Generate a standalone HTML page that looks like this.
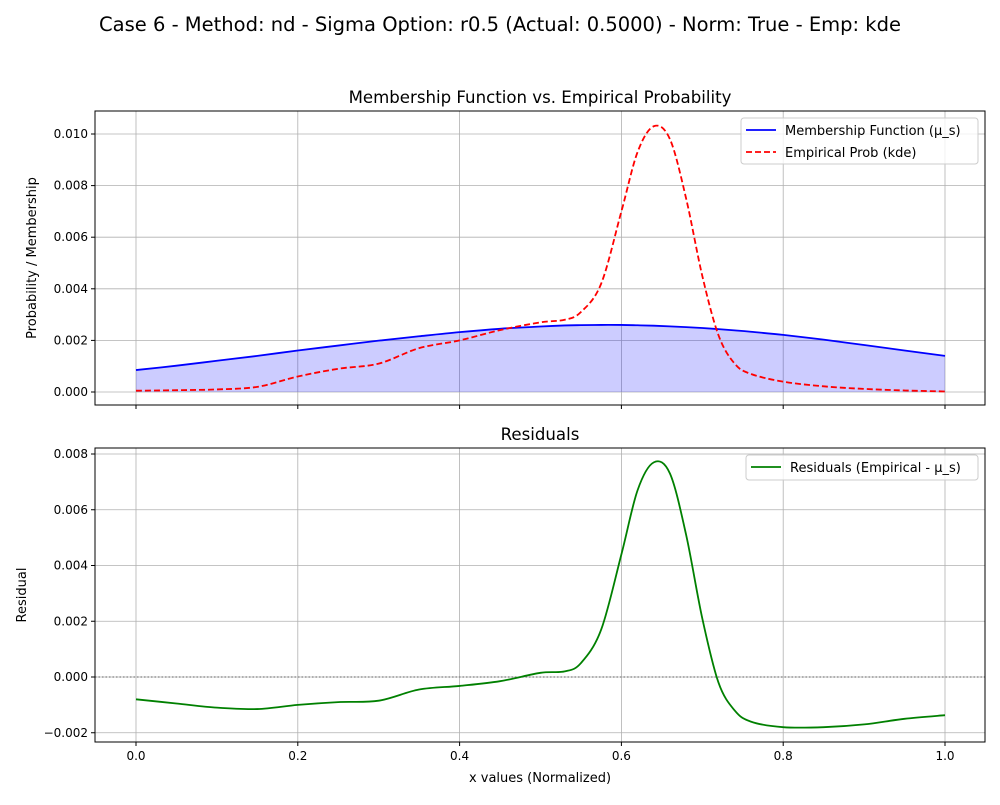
<!DOCTYPE html>
<html><head><meta charset="utf-8"><style>
body{margin:0;background:#fff;font-family:"Liberation Sans","DejaVu Sans",sans-serif}
svg text{font-family:"DejaVu Sans","Liberation Sans",sans-serif}
</style></head><body>
<svg id="c" width="1000" height="800" xmlns="http://www.w3.org/2000/svg">
<text x="500" y="31" font-size="19.5" text-anchor="middle">Case 6 - Method: nd - Sigma Option: r0.5 (Actual: 0.5000) - Norm: True - Emp: kde</text>
</svg>
<script>
const xs=[0,0.05,0.1,0.15,0.2,0.25,0.3,0.35,0.4,0.45,0.5,0.53,0.55,0.575,0.6,0.62,0.64,0.66,0.68,0.7,0.72,0.74,0.76,0.8,0.85,0.9,0.95,1.0];
const membership=[0.00085,0.00102,0.00121,0.0014,0.00161,0.0018,0.00199,0.00216,0.00232,0.00245,0.00254,0.00258,0.002592,0.0026,0.002599,0.002586,0.00257,0.002545,0.002515,0.00248,0.002436,0.002388,0.002335,0.002213,0.00203,0.00182,0.00161,0.0014];
const empirical=[0.00005,0.00007,0.0001,0.0002,0.0006,0.0009,0.0011,0.0017,0.002,0.0024,0.0027,0.0028,0.0031,0.0042,0.007,0.0093,0.0103,0.0098,0.0075,0.0045,0.0022,0.0011,0.0007,0.0004,0.00022,0.00012,0.00006,0.00002];
const residual=[-0.0008,-0.00095,-0.0011,-0.00115,-0.001,-0.0009,-0.00085,-0.00045,-0.00032,-0.00015,0.00015,0.0002,0.0005,0.0017,0.0044,0.0067,0.0077,0.0073,0.0051,0.0021,-0.0002,-0.0012,-0.0016,-0.0018,-0.0018,-0.0017,-0.0015,-0.00137];
const xTicks=[0,0.2,0.4,0.6,0.8,1.0];
const topTicks=[0,0.002,0.004,0.006,0.008,0.010];
const botTicks=[-0.002,0,0.002,0.004,0.006,0.008];

const svg=document.getElementById('c');const NS='http://www.w3.org/2000/svg';
function mk(t,a,p){const e=document.createElementNS(NS,t);for(const k in a)e.setAttribute(k,a[k]);(p||svg).appendChild(e);return e;}
const L=95,R=985;
const X=v=>136+809*v;
function path(vals,Y){const p=xs.map((x,i)=>[X(x),Y(vals[i])]);let d=`M${p[0][0]},${p[0][1]}`;
for(let i=0;i<p.length-1;i++){const p0=p[i-1]||p[i],p1=p[i],p2=p[i+1],p3=p[i+2]||p2;
d+=`C${p1[0]+(p2[0]-p0[0])/6},${p1[1]+(p2[1]-p0[1])/6} ${p2[0]-(p3[0]-p1[0])/6},${p2[1]-(p3[1]-p1[1])/6} ${p2[0]},${p2[1]}`;}return d;}
function axes(T,B,Y,ticks,fmt,ylabel,title,showX){
 const g=mk('g',{});
 xTicks.forEach(t=>{const l=mk('line',{x1:X(t),x2:X(t),y1:T,y2:B,stroke:'#b0b0b0','stroke-width':0.8},g);
  mk('line',{x1:X(t),x2:X(t),y1:B,y2:B+4,stroke:'#000'},g);
  if(showX){const tx=mk('text',{x:X(t),y:B+18,'font-size':12,'text-anchor':'middle'},g);tx.textContent=t.toFixed(1);}});
 ticks.forEach(t=>{const y=Y(t);const l=mk('line',{x1:L,x2:R,y1:y,y2:y,stroke:'#b0b0b0','stroke-width':0.8},g);
  mk('line',{x1:L-4,x2:L,y1:y,y2:y,stroke:'#000'},g);
  const tx=mk('text',{x:L-7,y:y+4,'font-size':12,'text-anchor':'end'},g);tx.textContent=fmt(t);});
 const yl=mk('text',{x:0,y:0,'font-size':13,'text-anchor':'middle',transform:`translate(${ylabel[1]},${(T+B)/2}) rotate(-90)`},g);yl.textContent=ylabel[0];
 const tt=mk('text',{x:(L+R)/2,y:T-8,'font-size':16.6,'text-anchor':'middle'},g);tt.textContent=title;
 return g;}
const fmt=t=>(t<0?'\u2212':'')+Math.abs(t).toFixed(3);
// top
const T1=111,B1=405,Y1=v=>392-v/0.001*25.8;
axes(T1,B1,Y1,topTicks,fmt,['Probability / Membership',36],'Membership Function vs. Empirical Probability',false);
const fill=mk('path',{d:path(membership,Y1)+`L${X(1)},${Y1(0)}L${X(0)},${Y1(0)}Z`,fill:'#0000ff','fill-opacity':0.2});

const m=mk('path',{d:path(membership,Y1),fill:'none',stroke:'#0000ff','stroke-width':1.8});

const e=mk('path',{d:path(empirical,Y1),fill:'none',stroke:'#ff0000','stroke-width':1.8,'stroke-dasharray':'6,3'});

mk('rect',{x:L,y:T1,width:R-L,height:B1-T1,fill:'none',stroke:'#000','stroke-width':1});
const lg=mk('g',{});
mk('rect',{x:741,y:118,width:237,height:46,fill:'#fff','fill-opacity':0.8,stroke:'#ccc',rx:3},lg);
mk('line',{x1:746,x2:776,y1:130,y2:130,stroke:'#0000ff','stroke-width':1.8},lg);
mk('line',{x1:746,x2:776,y1:152,y2:152,stroke:'#ff0000','stroke-width':1.8,'stroke-dasharray':'6,3'},lg);
let t=mk('text',{x:785,y:135,'font-size':13},lg);t.textContent='Membership Function (\u03bc_s)';
t=mk('text',{x:785,y:157,'font-size':13},lg);t.textContent='Empirical Prob (kde)';
// bottom
const T2=448,B2=742,Y2=v=>677-v/0.001*27.875;
axes(T2,B2,Y2,botTicks,fmt,['Residual',26],'Residuals',true);
const z=mk('line',{x1:L,x2:R,y1:Y2(0),y2:Y2(0),stroke:'#808080','stroke-width':1.2,'stroke-dasharray':'1.5,2'});

const r=mk('path',{d:path(residual,Y2),fill:'none',stroke:'#008000','stroke-width':1.8});

mk('rect',{x:L,y:T2,width:R-L,height:B2-T2,fill:'none',stroke:'#000','stroke-width':1});
const lg2=mk('g',{});
mk('rect',{x:746,y:455,width:232,height:25,fill:'#fff','fill-opacity':0.8,stroke:'#ccc',rx:3},lg2);
mk('line',{x1:751,x2:781,y1:467,y2:467,stroke:'#008000','stroke-width':1.8},lg2);
t=mk('text',{x:790,y:472,'font-size':13},lg2);t.textContent='Residuals (Empirical - \u03bc_s)';
t=mk('text',{x:540,y:782,'font-size':13,'text-anchor':'middle'});t.textContent='x values (Normalized)';

</script>
</body></html>
